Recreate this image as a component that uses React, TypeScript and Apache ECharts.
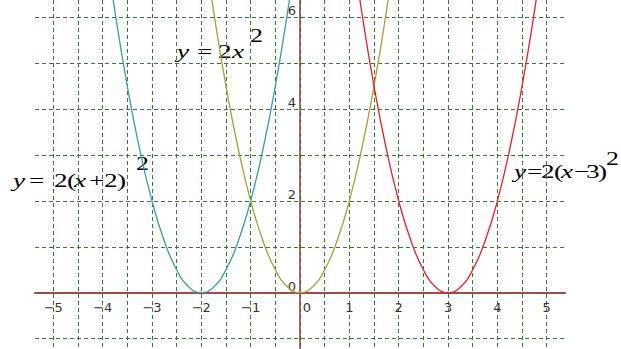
import React, { useEffect, useRef } from "react";
import * as echarts from "echarts";

// Sample points of the three parabolas (x, y pairs)
const xShiftLeft = [-4, -3.75, -3.5, -3.25, -3, -2.75, -2.5, -2.25, -2, -1.75, -1.5, -1.25, -1, -0.75, -0.5, -0.25, 0];
const yShiftLeft = [8, 6.125, 4.5, 3.125, 2, 1.125, 0.5, 0.125, 0, 0.125, 0.5, 1.125, 2, 3.125, 4.5, 6.125, 8];

const xBase = [-2, -1.75, -1.5, -1.25, -1, -0.75, -0.5, -0.25, 0, 0.25, 0.5, 0.75, 1, 1.25, 1.5, 1.75, 2];
const yBase = [8, 6.125, 4.5, 3.125, 2, 1.125, 0.5, 0.125, 0, 0.125, 0.5, 1.125, 2, 3.125, 4.5, 6.125, 8];

const xShiftRight = [1, 1.25, 1.5, 1.75, 2, 2.25, 2.5, 2.75, 3, 3.25, 3.5, 3.75, 4, 4.25, 4.5, 4.75, 5];
const yShiftRight = [8, 6.125, 4.5, 3.125, 2, 1.125, 0.5, 0.125, 0, 0.125, 0.5, 1.125, 2, 3.125, 4.5, 6.125, 8];

// Axis ranges and labelled ticks
const xRange = [-5.37, 5.37];
const yRange = [-1.227, 6.377];
const xTickLabels = [-5, -4, -3, -2, -1, 0, 1, 2, 3, 4, 5];
const yTickLabels = [0, 2, 4, 6];

const zip = (xs: number[], ys: number[]) => xs.map((x, i) => [x, ys[i]]);

type Token = [string, number, boolean];

const SERIF = '"Liberation Serif", "Times New Roman", serif';
const FS = 19.5;
const SUP_FS = 18.5;
const STRETCH = 1.4;

function textEl(t: string, x: number, baseline: number, fs: number, italic: boolean) {
  return {
    type: "text",
    x,
    y: baseline - 0.34 * fs,
    scaleX: STRETCH,
    style: {
      text: t,
      font: `${italic ? "italic " : ""}${fs}px ${SERIF}`,
      fill: "#000",
      align: "left",
      verticalAlign: "middle",
      textAlign: "left",
      textVerticalAlign: "middle",
    },
  };
}

function equation(tokens: Token[], baseline: number, supX: number, supBaseline: number) {
  const children: any[] = tokens.map(([t, x, italic]) => textEl(t, x, baseline, FS, italic));
  children.push(textEl("2", supX, supBaseline, SUP_FS, false));
  return { type: "group", z: 100, children };
}

const W = 621;
const H = 349;
const GRID = { left: 35, right: 56, top: 0, bottom: 0 };

export default function App() {
  const ref = useRef<HTMLDivElement>(null);

  useEffect(() => {
    if (!ref.current) return;
    const chart = echarts.init(ref.current, null, { renderer: "svg" });

    const gridW = W - GRID.left - GRID.right;
    const gridH = H - GRID.top - GRID.bottom;
    // distance of the zero lines from the grid edges, used to place the crossing axes
    const xAxisOffset = -(gridH * (0 - yRange[0])) / (yRange[1] - yRange[0]);
    const yAxisOffset = -(gridW * (0 - xRange[0])) / (xRange[1] - xRange[0]);

    const gridLine = {
      show: true,
      showMinLine: false,
      showMaxLine: false,
      lineStyle: { color: "#2f7d2f", type: [4, 3], width: 1 },
    };

    chart.setOption({
      animation: false,
      backgroundColor: "#ffffff",
      grid: { ...GRID, containLabel: false, outerBoundsMode: "none" },
      xAxis: {
        type: "value",
        min: xRange[0],
        max: xRange[1],
        splitNumber: 21,
        position: "bottom",
        offset: xAxisOffset,
        axisLine: { onZero: false, lineStyle: { color: "#a04a48", width: 2 } },
        axisTick: { show: false },
        splitLine: gridLine,
        axisLabel: {
          margin: 8,
          color: "#333",
          fontFamily: '"DejaVu Sans", sans-serif',
          fontSize: 13,
          showMinLabel: false,
          showMaxLabel: false,
          formatter: (v: number) => {
            const r = Math.round(v);
            if (Math.abs(v - r) > 1e-6 || !xTickLabels.includes(r)) return "";
            if (r === 0) return "{z|0}";
            return r < 0 ? "\u2212" + Math.abs(r) : String(r);
          },
          rich: { z: { padding: [0, 0, 0, 14], fontSize: 13, color: "#333" } },
        },
      },
      yAxis: {
        type: "value",
        min: yRange[0],
        max: yRange[1],
        splitNumber: 8,
        position: "left",
        offset: yAxisOffset,
        axisLine: { onZero: false, lineStyle: { color: "#8e3c3c", width: 1.5 } },
        axisTick: { show: false },
        splitLine: gridLine,
        axisLabel: {
          margin: 4,
          color: "#333",
          fontFamily: '"DejaVu Sans", sans-serif',
          fontSize: 13,
          verticalAlign: "bottom",
          showMinLabel: false,
          showMaxLabel: false,
          formatter: (v: number) => {
            const r = Math.round(v);
            if (Math.abs(v - r) > 1e-6 || !yTickLabels.includes(r)) return "";
            return String(r);
          },
        },
      },
      series: [
        {
          type: "line",
          data: zip(xShiftLeft, yShiftLeft),
          smooth: true,
          showSymbol: false,
          lineStyle: { color: "#3a9ca6", width: 1.3 },
          clip: true,
        },
        {
          type: "line",
          data: zip(xBase, yBase),
          smooth: true,
          showSymbol: false,
          lineStyle: { color: "#a3a03a", width: 1.3 },
          clip: true,
        },
        {
          type: "line",
          data: zip(xShiftRight, yShiftRight),
          smooth: true,
          showSymbol: false,
          lineStyle: { color: "#e3202a", width: 1.3 },
          clip: true,
        },
      ],
      graphic: [
        equation(
          [["y", 177, true], ["=", 197, false], ["2", 218, false], ["x", 232, true]],
          58.3, 250, 42
        ),
        equation(
          [["y", 13, true], ["=", 29, false], ["2", 54, false], ["(", 67, false], ["x", 74, true], ["+", 89, false], ["2", 104, false], [")", 117, false]],
          186.7, 136, 170
        ),
        equation(
          [["y", 514, true], ["=", 527, false], ["2", 541, false], ["(", 554, false], ["x", 561, true], ["\u2212", 574, false], ["3", 586, false], [")", 598, false]],
          178, 606, 165
        ),
      ],
    });

    return () => chart.dispose();
  }, []);

  return (
    <div
      ref={ref}
      style={{ position: "absolute", left: 0, top: 0, width: W, height: H, background: "#fff" }}
    />
  );
}
